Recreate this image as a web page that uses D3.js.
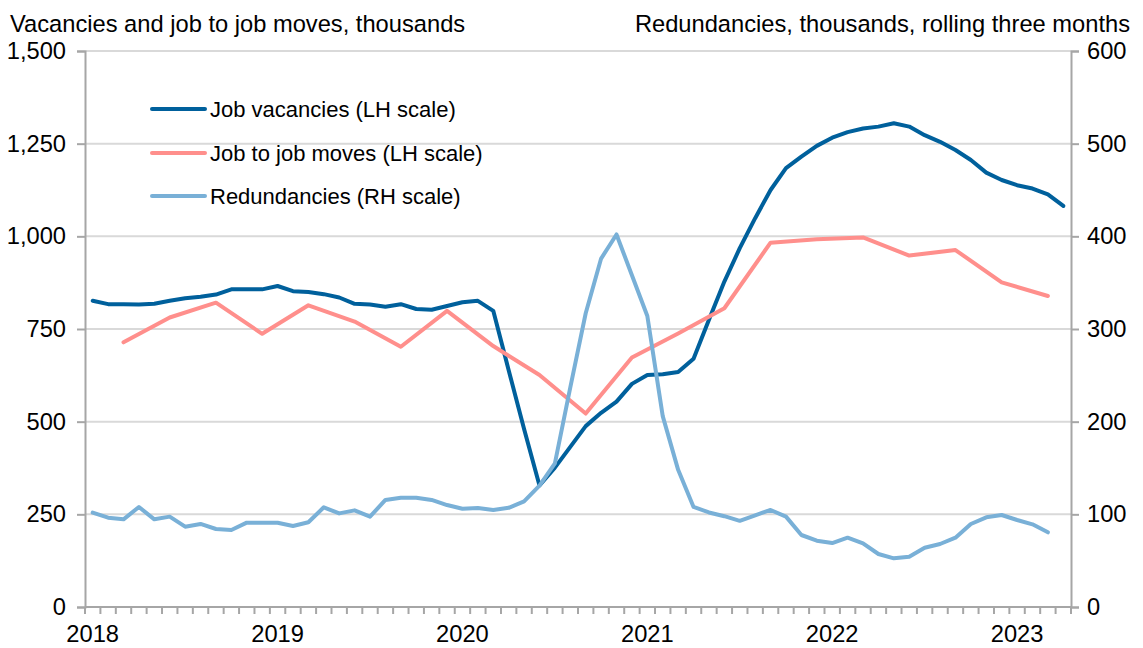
<!DOCTYPE html>
<html>
<head>
<meta charset="utf-8">
<script src="https://cdn.jsdelivr.net/npm/d3@7"></script>
<style>
  html, body { margin: 0; padding: 0; background: #fff; }
  svg { display: block; font-family: "Liberation Sans", Arial, sans-serif; }
</style>
</head>
<body>
<svg id="chart" width="1143" height="648"></svg>
<script>
// ---- data ----
const months = [];
for (let y = 2018; y <= 2023; y++) {
  for (let m = 1; m <= 12; m++) {
    if (y === 2023 && m > 4) break;
    months.push(y + "-" + String(m).padStart(2, "0"));
  }
}
const yearLabels = ["2018", "2019", "2020", "2021", "2022", "2023"];

const vacancies = [
  826, 817, 817, 816, 818, 826, 833, 837, 843, 857, 857, 857,
  866, 852, 850, 844, 835, 818, 816, 810, 817, 804, 802, 812,
  822, 826, 799, 639, 480, 328, 376, 432, 488, 524, 554, 602,
  626, 628, 634, 670, 775, 878, 968, 1049, 1125, 1184, 1215, 1244,
  1266, 1281, 1291, 1296, 1305, 1296, 1273, 1255, 1233, 1206, 1172, 1152,
  1138, 1129, 1113, 1082
];

const jobMoveMonths = [
  "2018-03", "2018-06", "2018-09", "2018-12",
  "2019-03", "2019-06", "2019-09", "2019-12",
  "2020-03", "2020-06", "2020-09", "2020-12",
  "2021-03", "2021-06", "2021-09", "2021-12",
  "2022-03", "2022-06", "2022-09", "2022-12",
  "2023-03"
];
const jobMoves = [
  714, 781, 821, 737,
  814, 770, 702, 799,
  704, 626, 522, 673,
  738, 806, 983, 992,
  997, 948, 963, 876,
  839
];

const redundancies = [
  101.8, 96.4, 94.6, 107.9, 94.6, 97.5, 86.7, 89.6, 84.2, 83.1, 91, 91,
  91, 87.4, 91.4, 107.6, 101, 104.3, 97.5, 115.5, 118, 118, 115.5, 110,
  106, 106.8, 104.7, 107, 114, 131, 155, 237, 317, 376, 402, 358,
  314, 206, 148, 108, 102, 98, 93, 99, 104.7, 97.5, 77.7, 71.6,
  69, 74.8, 68.7, 57.2, 52.5, 54.3, 64, 68, 74.8, 89.6, 96.8, 99.3,
  93.9, 89.2, 80.6
];

const leftTicks = [0, 250, 500, 750, 1000, 1250, 1500];
const rightTicks = [0, 100, 200, 300, 400, 500, 600];

const seriesNames = ["Job vacancies (LH scale)", "Job to job moves (LH scale)", "Redundancies (RH scale)"];
const seriesColors = ["#00609c", "#ff8f8c", "#79b0d7"];

// ---- layout ----
const svg = d3.select("#chart");
const L = 85, R = 1071, T = 51, B = 607;
const axisColor = "#a6a6a6";
const gridColor = "#d9d9d9";
const fontSize = 23.7;

const x = d3.scaleBand().domain(months).range([L, R]).padding(0);
const yL = d3.scaleLinear().domain([0, 1500]).range([B, T]);
const yR = d3.scaleLinear().domain([0, 600]).range([B, T]);
const cx = m => x(m) + x.bandwidth() / 2;

// gridlines
svg.append("g").selectAll("line")
  .data(leftTicks.filter(d => d > 0))
  .join("line")
  .attr("x1", L).attr("x2", R)
  .attr("y1", d => yL(d)).attr("y2", d => yL(d))
  .attr("stroke", gridColor).attr("stroke-width", 2);

// left axis
const gLeft = svg.append("g").attr("transform", `translate(${L},0)`)
  .call(d3.axisLeft(yL).tickValues(leftTicks).tickSize(8).tickPadding(11).tickFormat(d3.format(",")));
// right axis
const gRight = svg.append("g").attr("transform", `translate(${R},0)`)
  .call(d3.axisRight(yR).tickValues(rightTicks).tickSize(8).tickPadding(8).tickFormat(d3.format(",")));
[gLeft, gRight].forEach(g => {
  g.select(".domain").attr("stroke", axisColor).attr("stroke-width", 2);
  g.selectAll(".tick line").attr("stroke", axisColor).attr("stroke-width", 2);
  g.selectAll(".tick text").attr("fill", "#000").style("font-size", fontSize + "px")
    .style("font-family", '"Liberation Sans", Arial, sans-serif');
});

// bottom axis: monthly tick marks at band edges, year labels at January
const edges = months.map(m => x(m)).concat([R]);
const gBottom = svg.append("g");
gBottom.append("line").attr("x1", L).attr("x2", R).attr("y1", B).attr("y2", B)
  .attr("stroke", axisColor).attr("stroke-width", 2);
gBottom.selectAll("line.tk").data(edges).join("line").attr("class", "tk")
  .attr("x1", d => d).attr("x2", d => d).attr("y1", B).attr("y2", B + 7)
  .attr("stroke", axisColor).attr("stroke-width", 2);
gBottom.selectAll("text").data(yearLabels).join("text")
  .attr("x", d => cx(d + "-01")).attr("y", 642)
  .attr("text-anchor", "middle").attr("fill", "#000")
  .style("font-size", fontSize + "px").text(d => d);

// axis titles
svg.append("text").attr("x", 10).attr("y", 32).attr("fill", "#000")
  .style("font-size", fontSize + "px").text("Vacancies and job to job moves, thousands");
svg.append("text").attr("x", 1130).attr("y", 32).attr("text-anchor", "end").attr("fill", "#000")
  .style("font-size", fontSize + "px").text("Redundancies, thousands, rolling three months");

// lines
const lineL = d3.line().x(d => cx(d[0])).y(d => yL(d[1]));
const lineR = d3.line().x(d => cx(d[0])).y(d => yR(d[1]));

svg.append("path").datum(months.map((m, i) => [m, vacancies[i]]))
  .attr("d", lineL).attr("fill", "none").attr("stroke", seriesColors[0])
  .attr("stroke-width", 4).attr("stroke-linejoin", "round").attr("stroke-linecap", "round");
svg.append("path").datum(jobMoveMonths.map((m, i) => [m, jobMoves[i]]))
  .attr("d", lineL).attr("fill", "none").attr("stroke", seriesColors[1])
  .attr("stroke-width", 4).attr("stroke-linejoin", "round").attr("stroke-linecap", "round");
svg.append("path").datum(months.slice(0, redundancies.length).map((m, i) => [m, redundancies[i]]))
  .attr("d", lineR).attr("fill", "none").attr("stroke", seriesColors[2])
  .attr("stroke-width", 4).attr("stroke-linejoin", "round").attr("stroke-linecap", "round");

// legend
const legY = [109, 153, 196];
const leg = svg.append("g");
seriesNames.forEach((name, i) => {
  leg.append("line").attr("x1", 152).attr("x2", 205).attr("y1", legY[i]).attr("y2", legY[i])
    .attr("stroke", seriesColors[i]).attr("stroke-width", 4).attr("stroke-linecap", "round");
  leg.append("text").attr("x", 210).attr("y", legY[i]).attr("dy", "0.35em").attr("fill", "#000")
    .style("font-size", "22px").text(name);
});
</script>
</body>
</html>
